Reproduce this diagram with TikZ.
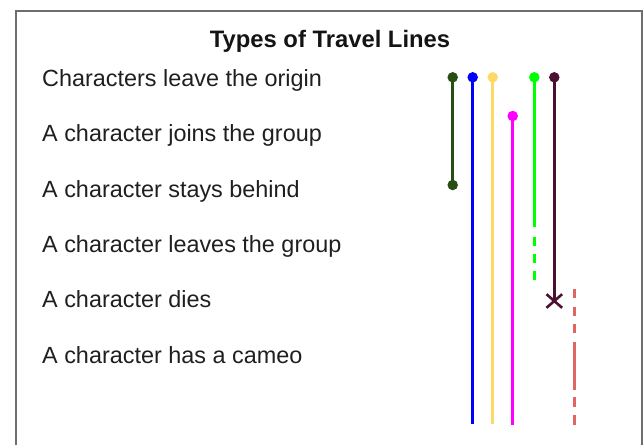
\documentclass[tikz,border=0pt]{standalone}
\usepackage{fontspec}
\setmainfont{Liberation Sans}
\usetikzlibrary{
  positioning,
  shapes.misc
}
\definecolor{leafgreen}{HTML}{274E13}
\definecolor{pureblue}{HTML}{0000FF}
\definecolor{sunyellow}{HTML}{FFD966}
\definecolor{puremagenta}{HTML}{FF00FF}
\definecolor{puregreen}{HTML}{00FF00}
\definecolor{plum}{HTML}{4C1130}
\definecolor{cameored}{HTML}{E06666}
\definecolor{framegray}{HTML}{6E6E6E}
\tikzset{
  rowtext/.style={anchor=base west,inner sep=0pt,font=\fontsize{23.4}{27}\selectfont,text=black!88},
  heading/.style={anchor=base,inner sep=0pt,font=\fontsize{23.8}{27}\selectfont\bfseries,text=black!92},
  tdot/.style={circle,inner sep=0pt,minimum size=10.5pt},
  travel/.style={line width=2.8pt},
  gapped/.style={line width=2.8pt,dash pattern=on 8.5pt off 8.5pt}
}

\begin{document}
\begin{tikzpicture}[x=1pt,y=-1pt]
            \useasboundingbox (0,0) rectangle (644,445);
            \draw[framegray,line width=2pt] (15.5,445) -- (15.5,10.5) -- (642,10.5) -- (642,445);
            \node[heading] (title) at (330,47) {Types of Travel Lines};
            \node[rowtext] (origin) at (42,86.5) {Characters leave the origin};
            \node[rowtext] (joins) at (42,141.8) {A character joins the group};
            \node[rowtext] (stays) at (42,197.1) {A character stays behind};
            \node[rowtext] (leaves) at (42,252.4) {A character leaves the group};
            \node[rowtext] (dies) at (42,307.7) {A character dies};
            \node[rowtext] (cameo) at (42,363) {A character has a cameo};
            \node[tdot,fill=leafgreen] (gtop) at (452.7,77.3) {};
            \node[tdot,fill=leafgreen] (gbot) at (452.7,185) {};
            \draw[travel,line width=3.4pt,leafgreen] (gtop.center) -- (gbot.center);
            \node[tdot,fill=pureblue] (btop) at (472.7,77.3) {};
            \coordinate (bend) at (472.7,423.5);
            \draw[travel,pureblue] (btop.center) -- (bend);
            \node[tdot,fill=sunyellow] (ytop) at (492.7,77.3) {};
            \coordinate (yend) at (492.7,423.5);
            \draw[travel,sunyellow] (ytop.center) -- (yend);
            \node[tdot,fill=puremagenta] (mtop) at (512.7,116) {};
            \coordinate (mend) at (512.7,425);
            \draw[travel,puremagenta] (mtop.center) -- (mend);
            \node[tdot,fill=puregreen] (ltop) at (534.3,77.3) {};
            \coordinate (lsplit) at (534.3,227);
            \coordinate (lgap) at (534.3,237);
            \coordinate (lend) at (534.3,280);
            \draw[travel,puregreen] (ltop.center) -- (lsplit);
            \draw[gapped,puregreen] (lgap) -- (lend);
            \node[tdot,fill=plum] (ptop) at (554.3,77.3) {};
            \node[cross out,draw=plum,line width=2.6pt,minimum width=13pt,minimum height=11pt,inner sep=0pt] (pdead) at (554.3,301) {};
            \draw[travel,plum] (ptop.center) -- (pdead.center);
            \coordinate (rtop) at (574.3,289);
            \coordinate (rin) at (574.3,334);
            \coordinate (rshow) at (574.3,342);
            \coordinate (rhide) at (574.3,390);
            \coordinate (rout) at (574.3,397);
            \coordinate (rend) at (574.3,424.5);
            \draw[gapped,line width=2.5pt,cameored,dash pattern=on 9pt off 8.5pt] (rtop) -- (rin);
            \draw[travel,line width=2.5pt,cameored] (rshow) -- (rhide);
            \draw[gapped,line width=2.5pt,cameored,dash pattern=on 9.5pt off 8.5pt] (rout) -- (rend);
        \end{tikzpicture}
\end{document}
